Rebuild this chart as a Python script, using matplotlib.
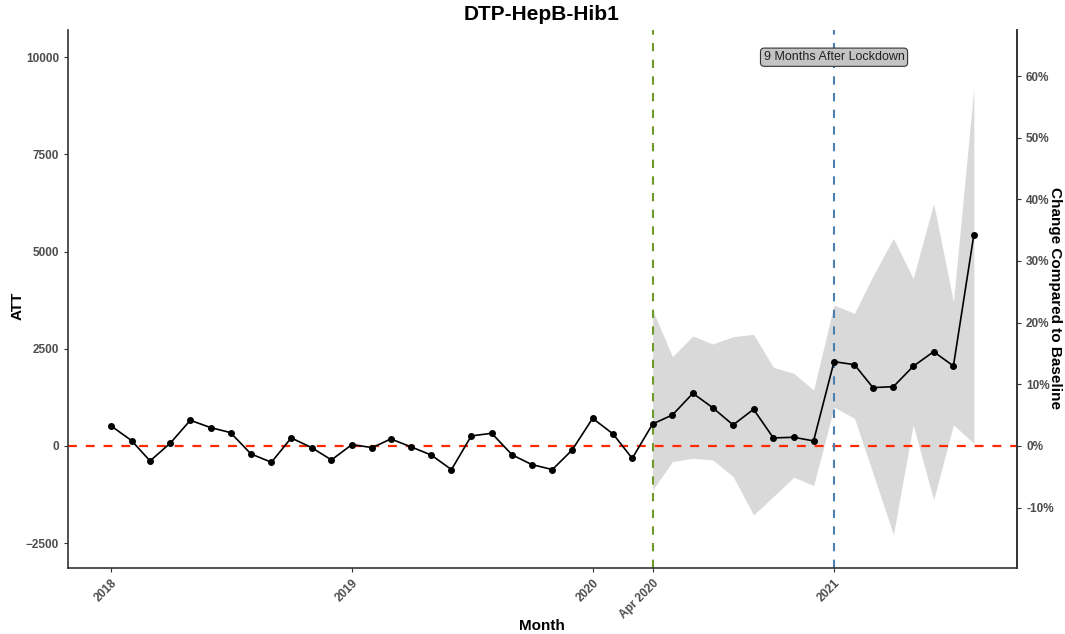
import numpy as np
import pandas as pd
import matplotlib
matplotlib.use("Agg")
import matplotlib.pyplot as plt
import matplotlib.dates as mdates
from matplotlib.ticker import FuncFormatter

plt.rcParams['font.family'] = ['Liberation Sans', 'DejaVu Sans']

# monthly ATT estimates, Jan 2018 .. Aug 2021
months = pd.date_range("2018-01-01", "2021-08-01", freq="MS")
att = [514, 137, -386, 77, 660, 471, 343, -206, -420, 206, -43, -360,
       34, -43, 180, -26, -231, -608, 257, 326, -231, -480, -608, -103,
       710, 308, -320, 566, 797, 1354, 985, 540, 943, 206, 223, 129,
       2168, 2091, 1500, 1525, 2048, 2425, 2057, 5433]

# confidence band, Apr 2020 .. Aug 2021
band_months = pd.date_range("2020-04-01", "2021-08-01", freq="MS")
band_hi = [3496, 2297, 2828, 2622, 2811, 2871, 2022, 1868, 1440,
           3625, 3410, 4370, 5338, 4310, 6238, 3710, 9203]
band_lo = [-1131, -403, -317, -360, -788, -1774, -1302, -805, -1020,
           994, 711, -700, -2280, 540, -1388, 540, 69]

baseline = 15860  # ATT value that equals 100 % change
tick_dates = ["2018-01-01", "2019-01-01", "2020-01-01", "2020-04-01", "2021-01-01"]
tick_labels = ["2018", "2019", "2020", "Apr 2020", "2021"]
lockdown = "2020-04-01"
after9 = "2021-01-01"

W, H = 1065, 634
fig = plt.figure(figsize=(W / 100, H / 100), dpi=100)
ax = fig.add_axes([68 / W, 66 / H, 949 / W, 538 / H])

ax.fill_between(band_months, band_lo, band_hi, color="#d9d9d9", linewidth=0, zorder=1)
ax.axhline(0, color="#ff2a00", linestyle=(0, (4, 4)), linewidth=1.6, zorder=2)
ax.axvline(pd.Timestamp(lockdown), color="#6f9a2a", linestyle=(0, (4, 4)), linewidth=1.5, zorder=2)
ax.axvline(pd.Timestamp(after9), color="#4a7fb0", linestyle=(0, (4, 4)), linewidth=1.5, zorder=2)
ax.plot(months, att, color="black", linewidth=1.2, marker="o", markersize=4, zorder=3)

ax.text(pd.Timestamp(after9), 10000, "9 Months After Lockdown", ha="center", va="center",
        fontsize=9, color="#222222",
        bbox=dict(boxstyle="round,pad=0.25,rounding_size=0.3", fc="#c4c4c4", ec="#333333", lw=0.8))

# ggplot-like 5% expansion on x
x0 = mdates.date2num(months[0])
x1 = mdates.date2num(months[-1])
pad = (x1 - x0) * 0.05
ax.set_xlim(x0 - pad, x1 + pad)
ax.set_ylim(-3140, 10700)

ax.set_xticks([mdates.date2num(pd.Timestamp(d)) for d in tick_dates])
ax.set_xticklabels(tick_labels, rotation=45, ha="right", rotation_mode="anchor")
ax.set_yticks([-2500, 0, 2500, 5000, 7500, 10000])

ax.spines["top"].set_visible(False)
for s in ["left", "bottom", "right"]:
    ax.spines[s].set_color("#333333")
    ax.spines[s].set_linewidth(1.2)

ax.tick_params(axis="both", colors="#333333", labelcolor="#4d4d4d", labelsize=8.5, length=3)
for lbl in ax.get_xticklabels() + ax.get_yticklabels():
    lbl.set_fontweight("bold")

sec = ax.secondary_yaxis("right", functions=(lambda v: v / baseline * 100,
                                             lambda p: p * baseline / 100))
sec.set_yticks([-10, 0, 10, 20, 30, 40, 50, 60])
sec.yaxis.set_major_formatter(FuncFormatter(lambda v, p: f"{v:.0f}%"))
sec.tick_params(colors="#333333", labelcolor="#4d4d4d", labelsize=8.5, length=3)
for lbl in sec.get_yticklabels():
    lbl.set_fontweight("bold")
sec.spines["right"].set_color("#333333")
sec.spines["right"].set_linewidth(1.2)

fig.text(1055 / W, 1 - 298 / H, "Change Compared to Baseline", rotation=270,
         ha="center", va="center", fontsize=11, fontweight="bold")
fig.text(542 / W, 1 - 626 / H, "Month", ha="center", va="center",
         fontsize=11, fontweight="bold")
fig.text(18 / W, 1 - 306 / H, "ATT", rotation=90, ha="center", va="center",
         fontsize=11, fontweight="bold")
fig.text(542 / W, 1 - 15 / H, "DTP-HepB-Hib1", ha="center", va="center",
         fontsize=15, fontweight="bold")

fig.savefig("out.png", dpi=100)
